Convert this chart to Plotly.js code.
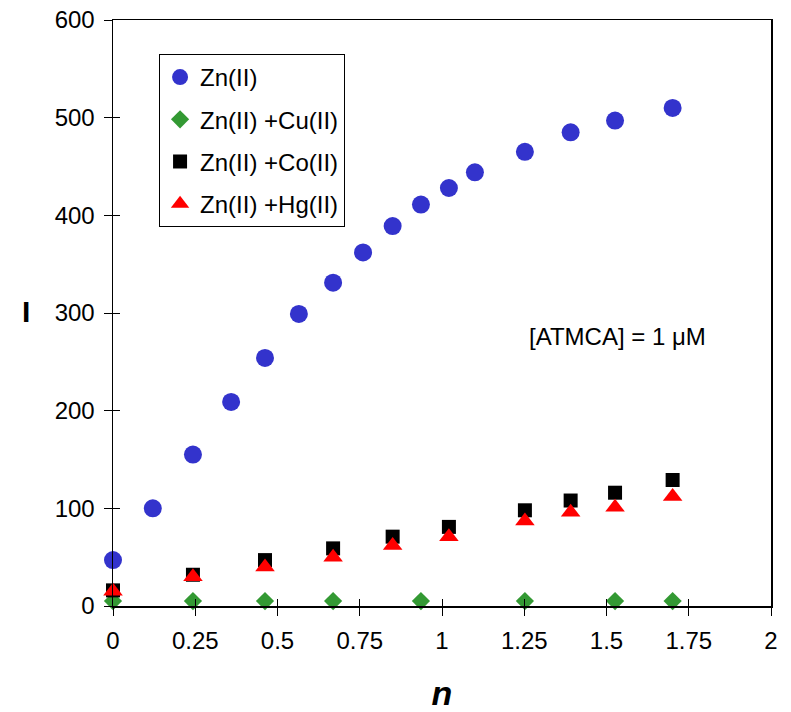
<!DOCTYPE html>
<html>
<head>
<meta charset="utf-8">
<script src="https://cdn.plot.ly/plotly-3.0.1.min.js"></script>
<style>html,body{margin:0;padding:0;background:#fff;}#chart{width:791px;height:712px;}</style>
</head>
<body>
<div id="chart"></div>
<script>
// Data
const znX = [0, 0.121, 0.243, 0.359, 0.462, 0.565, 0.669, 0.760, 0.850, 0.936, 1.021, 1.100, 1.252, 1.391, 1.526, 1.701];
const znY = [47, 100, 155, 209, 254, 299, 331, 362, 389, 411, 428, 444, 465, 485, 497, 510];

const cuX = [0, 0.243, 0.462, 0.669, 0.936, 1.252, 1.526, 1.701];
const cuY = [5, 5, 5, 5, 5, 5, 5, 5];

const coX = [0, 0.243, 0.462, 0.669, 0.850, 1.021, 1.252, 1.391, 1.526, 1.701];
const coY = [16, 32, 47, 59, 71, 81, 98, 108, 116, 129];

const hgX = [0, 0.243, 0.462, 0.669, 0.850, 1.021, 1.252, 1.391, 1.526, 1.701];
const hgY = [15, 30, 40, 50, 62, 71, 87, 96, 101, 112];

const seriesNames = ['Zn(II)', 'Zn(II) +Cu(II)', 'Zn(II) +Co(II)', 'Zn(II) +Hg(II)'];
const xTickVals = [0, 0.25, 0.5, 0.75, 1, 1.25, 1.5, 1.75, 2];
const xTickText = ['0', '0.25', '0.5', '0.75', '1', '1.25', '1.5', '1.75', '2'];
const yTickVals = [0, 100, 200, 300, 400, 500, 600];
const noteText = '[ATMCA] = 1 \u03BCM';
const yTitleText = '<b>I</b>';
const xTitleText = '<b><i>n</i></b>';

const FONT = 'Liberation Sans, Arial, sans-serif';

function mk(x, y, name, symbol, size, color, group) {
  return {
    x: x, y: y, name: name, type: 'scatter', mode: 'markers',
    cliponaxis: false, legendgroup: group,
    marker: {symbol: symbol, size: size, color: color, line: {width: 0}}
  };
}

const traces = [
  mk(znX, znY, seriesNames[0], 'circle', 18, '#3333CC', 'a'),
  mk(cuX, cuY, seriesNames[1], 'diamond', 14, '#339933', 'b'),
  mk(coX, coY, seriesNames[2], 'square', 14, '#000000', 'c'),
  mk(hgX, hgY, seriesNames[3], 'triangle-up', 17, '#FF0000', 'd'),
  // invisible trace to host the inner-tick overlay axes
  {x: [0], y: [0], xaxis: 'x2', yaxis: 'y2', type: 'scatter', mode: 'markers',
   marker: {opacity: 0}, showlegend: false, hoverinfo: 'skip'}
];

const layout = {
  width: 791, height: 712,
  margin: {l: 113, r: 20, t: 20, b: 106},
  paper_bgcolor: '#ffffff', plot_bgcolor: '#ffffff',
  font: {family: FONT, size: 24, color: '#000000'},
  showlegend: true,
  legend: {
    x: 0.07, y: 0.942, xanchor: 'left', yanchor: 'top',
    bgcolor: '#ffffff', bordercolor: '#000000', borderwidth: 1,
    font: {family: FONT, size: 24, color: '#000000'},
    tracegroupgap: 8, itemsizing: 'trace', itemwidth: 30
  },
  xaxis: {
    range: [0, 2], tickvals: xTickVals, ticktext: xTickText,
    showgrid: false, zeroline: false,
    showline: true, linecolor: '#000000', linewidth: 1.5, mirror: true,
    ticks: 'outside', ticklen: 8, tickwidth: 1, tickcolor: '#000000',
    ticklabelstandoff: 5,
    tickfont: {family: FONT, size: 24, color: '#000000'},
    title: {text: xTitleText, font: {family: FONT, size: 34, color: '#000000'}, standoff: 30}
  },
  yaxis: {
    range: [0, 600], tickvals: yTickVals,
    showgrid: false, zeroline: false,
    showline: true, linecolor: '#000000', linewidth: 1.5, mirror: true,
    ticks: 'outside', ticklen: 8, tickwidth: 1, tickcolor: '#000000',
    ticklabelstandoff: 4,
    tickfont: {family: FONT, size: 24, color: '#000000'}
  },
  xaxis2: {
    overlaying: 'x', range: [0, 2], tickvals: xTickVals,
    showticklabels: false, showgrid: false, zeroline: false, showline: false,
    ticks: 'inside', ticklen: 7, tickwidth: 1, tickcolor: '#000000'
  },
  yaxis2: {
    overlaying: 'y', range: [0, 600], tickvals: yTickVals,
    showticklabels: false, showgrid: false, zeroline: false, showline: false,
    ticks: 'inside', ticklen: 7, tickwidth: 1, tickcolor: '#000000'
  },
  annotations: [
    {
      x: 1.257, y: 276, xref: 'x', yref: 'y', xanchor: 'left', yanchor: 'middle',
      text: noteText, showarrow: false,
      font: {family: FONT, size: 24, color: '#000000'}
    },
    {
      x: -0.132, y: 302, xref: 'paper', yref: 'y', xanchor: 'center', yanchor: 'middle',
      text: yTitleText, showarrow: false,
      font: {family: FONT, size: 30, color: '#000000'}
    }
  ]
};

Plotly.newPlot('chart', traces, layout, {displayModeBar: false, staticPlot: true});
</script>
</body>
</html>
